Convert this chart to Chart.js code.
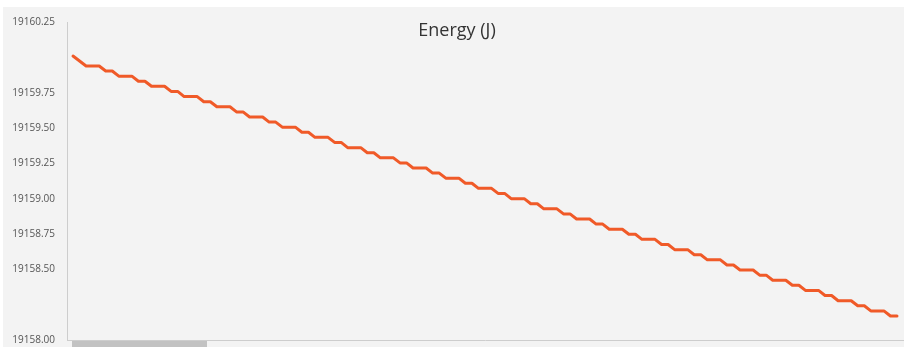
<!DOCTYPE html>
<html>
<head>
<meta charset="utf-8">
<title>Energy (J)</title>
<script src="https://cdn.jsdelivr.net/npm/chart.js@4.4.1/dist/chart.umd.min.js"></script>
<style>
    html, body { margin: 0; padding: 0; background: #fff; }
    body { width: 907px; height: 347px; overflow: hidden; position: relative; font-family: "Open Sans", sans-serif; }
    #panel { position: absolute; left: 3px; top: 7px; width: 901px; height: 340px; background: #f3f3f3; }
    #chart-title { position: absolute; left: 357px; width: 200px; top: 19px; line-height: 20px; text-align: center; font-size: 18px; color: #333; }
    #scroll-thumb { position: absolute; left: 69px; top: 334px; width: 135px; height: 6px; background: #c2c2c2; }
    #energyChart { position: absolute; left: 0; top: 0; }
</style>
</head>
<body>
<div id="panel">
    <canvas id="energyChart" width="901" height="340"></canvas>
    <div id="scroll-thumb"></div>
</div>
<div id="chart-title">Energy (J)</div>

<script>
// --- data ---
const yTicks = [19158.00, 19158.50, 19158.75, 19159.00, 19159.25, 19159.50, 19159.75, 19160.25];

// energy readings, one per sample
const energy = [
    19160.009, 19159.974,
    19159.939, 19159.939, 19159.939, 19159.903, 19159.903,
    19159.867, 19159.867, 19159.867, 19159.831, 19159.831,
    19159.795, 19159.795, 19159.795, 19159.759, 19159.759,
    19159.722, 19159.722, 19159.722, 19159.686, 19159.686,
    19159.650, 19159.650, 19159.650, 19159.614, 19159.614,
    19159.578, 19159.578, 19159.578, 19159.542, 19159.542,
    19159.506, 19159.506, 19159.506, 19159.470, 19159.470,
    19159.434, 19159.434, 19159.434, 19159.398, 19159.398,
    19159.361, 19159.361, 19159.361, 19159.325, 19159.325,
    19159.289, 19159.289, 19159.289, 19159.253, 19159.253,
    19159.217, 19159.217, 19159.217, 19159.181, 19159.181,
    19159.145, 19159.145, 19159.145, 19159.109, 19159.109,
    19159.073, 19159.073, 19159.073, 19159.037, 19159.037,
    19159.000, 19159.000, 19159.000, 19158.964, 19158.964,
    19158.928, 19158.928, 19158.928, 19158.892, 19158.892,
    19158.856, 19158.856, 19158.856, 19158.820, 19158.820,
    19158.784, 19158.784, 19158.784, 19158.748, 19158.748,
    19158.712, 19158.712, 19158.712, 19158.676, 19158.676,
    19158.639, 19158.639, 19158.639, 19158.603, 19158.603,
    19158.567, 19158.567, 19158.567, 19158.531, 19158.531,
    19158.495, 19158.495, 19158.495, 19158.459, 19158.459,
    19158.423, 19158.423, 19158.423, 19158.387, 19158.387,
    19158.351, 19158.351, 19158.351, 19158.315, 19158.315,
    19158.278, 19158.278, 19158.278, 19158.242, 19158.242,
    19158.206, 19158.206, 19158.206, 19158.170, 19158.170
];

const axisColor = '#cdcdcd';

function initChart() {
    const ctx = document.getElementById('energyChart').getContext('2d');
    const points = energy.map((v, i) => ({ x: i, y: v }));

    new Chart(ctx, {
        type: 'line',
        data: {
            datasets: [{
                label: 'Energy (J)',
                data: points,
                borderColor: '#f05a28',
                borderWidth: 3,
                borderJoinStyle: 'round',
                borderCapStyle: 'round',
                pointRadius: 0,
                tension: 0,
                fill: false
            }]
        },
        options: {
            responsive: false,
            animation: false,
            devicePixelRatio: 1,
            layout: { padding: { top: 15, right: 1, bottom: 7, left: 0 } },
            plugins: {
                legend: { display: false },
                title: { display: false },
                tooltip: { enabled: false }
            },
            scales: {
                x: {
                    type: 'linear',
                    min: -0.92,
                    max: energy.length - 1 + 0.92,
                    grid: { display: false, drawTicks: false },
                    ticks: { display: false, padding: 0 },
                    afterFit: (scale) => { scale.height = 0; },
                    border: { display: true, color: axisColor, width: 1 }
                },
                y: {
                    min: 19158,
                    max: 19160.25,
                    afterBuildTicks: (scale) => {
                        scale.ticks = yTicks.map(v => ({ value: v }));
                    },
                    afterFit: (scale) => { scale.width = 64; },
                    // tick marks hidden, their length only pushes the labels off the axis
                    grid: { display: false, drawTicks: true, tickLength: 12 },
                    border: { display: true, color: axisColor, width: 1 },
                    ticks: {
                        padding: 0,
                        color: '#555',
                        font: { family: 'Open Sans', size: 10 },
                        callback: (v) => Number(v).toFixed(2)
                    }
                }
            }
        }
    });
}

document.addEventListener('DOMContentLoaded', initChart);
</script>
</body>
</html>
